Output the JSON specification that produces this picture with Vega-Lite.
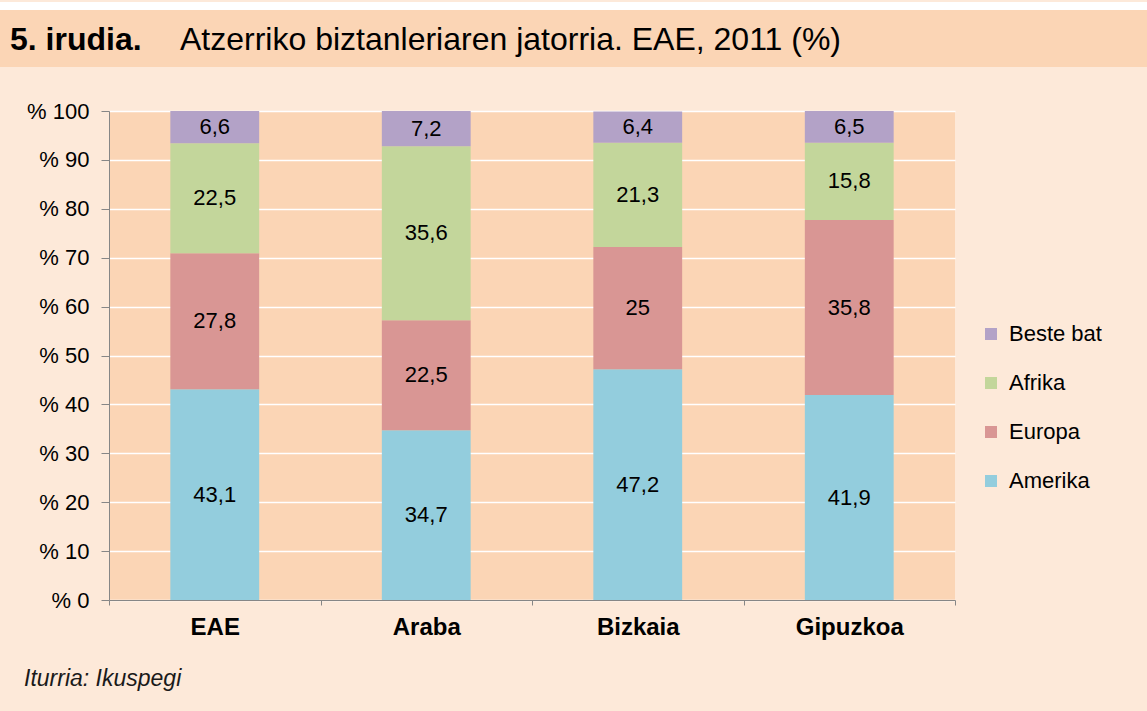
{
  "$schema": "https://vega.github.io/schema/vega-lite/v6.json",
  "background": "#FDE9D9",
  "padding": {"left": 0, "top": 0, "right": 0, "bottom": 20},
  "columns": 1,
  "spacing": 33,
  "config": {
    "font": "Liberation Sans",
    "view": {"stroke": null},
    "locale": {"number": {"decimal": ",", "thousands": ".", "grouping": [3], "currency": ["", " €"]}}
  },
  "concat": [
    {
      "vconcat": [
        {
          "width": 1147,
          "height": 8,
          "view": {"fill": "#FFFFFF", "stroke": null},
          "data": {"values": [{}]},
          "mark": {"type": "text"},
          "encoding": {"text": {"value": ""}}
        },
        {
          "hconcat": [
            {
              "width": 170,
              "height": 57,
              "view": {"fill": "#FBD5B5", "stroke": null},
              "title": {"text": "5. irudia.", "anchor": "start", "frame": "group", "orient": "bottom", "offset": -17, "baseline": "alphabetic", "dx": 10, "fontSize": 32, "fontWeight": "bold", "color": "#000000"},
              "data": {"values": [{}]},
              "mark": {"type": "text"},
              "encoding": {"text": {"value": ""}}
            },
            {
              "width": 977,
              "height": 57,
              "view": {"fill": "#FBD5B5", "stroke": null},
              "title": {"text": "Atzerriko biztanleriaren jatorria. EAE, 2011 (%)", "anchor": "start", "frame": "group", "orient": "bottom", "offset": -17, "baseline": "alphabetic", "dx": 10, "fontSize": 32, "fontWeight": "normal", "color": "#000000"},
              "data": {"values": [{}]},
              "mark": {"type": "text"},
              "encoding": {"text": {"value": ""}}
            }
          ],
          "spacing": 0,
          "bounds": "flush"
        }
      ],
      "spacing": 0,
      "bounds": "flush"
    },
    {
      "hconcat": [
        {
          "width": 109,
          "height": 489,
          "data": {"values": [{}]},
          "mark": {"type": "text"},
          "encoding": {"text": {"value": ""}}
        },
        {
          "width": 846,
          "height": 489,
          "view": {"fill": "#FBD5B5", "stroke": null},
          "title": {"text": "Iturria: Ikuspegi", "anchor": "start", "frame": "bounds", "orient": "bottom", "offset": 29, "dx": 24, "fontSize": 23, "fontStyle": "italic", "fontWeight": "normal", "color": "#1A1A1A"},
          "data": {
            "values": [
              {"region": "EAE", "origin": "Amerika", "value": 43.1},
              {"region": "EAE", "origin": "Europa", "value": 27.8},
              {"region": "EAE", "origin": "Afrika", "value": 22.5},
              {"region": "EAE", "origin": "Beste bat", "value": 6.6},
              {"region": "Araba", "origin": "Amerika", "value": 34.7},
              {"region": "Araba", "origin": "Europa", "value": 22.5},
              {"region": "Araba", "origin": "Afrika", "value": 35.6},
              {"region": "Araba", "origin": "Beste bat", "value": 7.2},
              {"region": "Bizkaia", "origin": "Amerika", "value": 47.2},
              {"region": "Bizkaia", "origin": "Europa", "value": 25},
              {"region": "Bizkaia", "origin": "Afrika", "value": 21.3},
              {"region": "Bizkaia", "origin": "Beste bat", "value": 6.4},
              {"region": "Gipuzkoa", "origin": "Amerika", "value": 41.9},
              {"region": "Gipuzkoa", "origin": "Europa", "value": 35.8},
              {"region": "Gipuzkoa", "origin": "Afrika", "value": 15.8},
              {"region": "Gipuzkoa", "origin": "Beste bat", "value": 6.5}
            ]
          },
          "transform": [
            {"calculate": "indexof(['Amerika','Europa','Afrika','Beste bat'], datum.origin)", "as": "k"},
            {"stack": "value", "groupby": ["region"], "sort": [{"field": "k", "order": "ascending"}], "as": ["v0", "v1"]},
            {"calculate": "(datum.v0 + datum.v1) / 2", "as": "mid"}
          ],
          "encoding": {
            "x": {
              "field": "region",
              "type": "nominal",
              "sort": ["EAE", "Araba", "Bizkaia", "Gipuzkoa"],
              "scale": {"paddingInner": 0, "paddingOuter": 0},
              "axis": {
                "title": null, "labelAngle": 0, "labelFontSize": 24, "labelFontWeight": "bold", "labelColor": "#000000",
                "tickColor": "#868686", "domainColor": "#868686", "tickSize": 5, "tickBand": "extent", "labelPadding": 10
              }
            }
          },
          "layer": [
            {
              "mark": {"type": "bar", "strokeWidth": 0, "width": {"band": 0.42}},
              "encoding": {
                "y": {
                  "field": "v1", "type": "quantitative",
                  "scale": {"domain": [0, 100], "nice": false},
                  "axis": {
                    "title": null, "values": [0, 10, 20, 30, 40, 50, 60, 70, 80, 90, 100],
                    "labelExpr": "'% ' + datum.value", "labelFontSize": 22, "labelColor": "#000000", "labelPadding": 12,
                    "tickSize": 8, "tickColor": "#868686", "domainColor": "#868686",
                    "grid": true, "gridColor": "#FFFFFF", "gridWidth": 1.5, "minExtent": 109
                  }
                },
                "y2": {"field": "v0"},
                "color": {
                  "field": "origin", "type": "nominal",
                  "scale": {"domain": ["Beste bat", "Afrika", "Europa", "Amerika"], "range": ["#B3A2C7", "#C3D69B", "#D99694", "#93CDDD"]},
                  "legend": {
                    "title": null, "orient": "none", "legendX": 980, "legendY": 321, "padding": 0,
                    "labelFontSize": 22, "labelColor": "#000000", "labelOffset": 7,
                    "symbolType": "square", "symbolSize": 144, "symbolStrokeWidth": 0, "rowPadding": 27
                  }
                }
              }
            },
            {
              "mark": {"type": "text", "fontSize": 22, "color": "#000000"},
              "encoding": {
                "y": {"field": "mid", "type": "quantitative"},
                "text": {"field": "value", "type": "quantitative", "format": ".1~f"}
              }
            }
          ]
        }
      ],
      "spacing": 0,
      "bounds": "flush"
    }
  ]
}
